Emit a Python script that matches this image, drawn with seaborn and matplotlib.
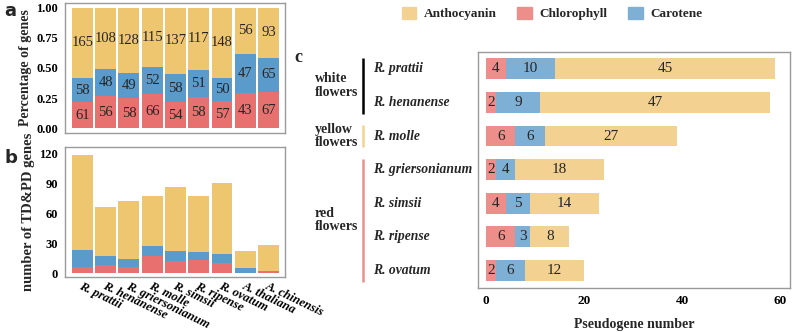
import numpy as np
import pandas as pd
import seaborn as sns
import matplotlib.pyplot as plt
from matplotlib.patches import Patch
from matplotlib.transforms import blended_transform_factory

# panel a / b species
species_ab = ['R. prattii', 'R. henanense', 'R. griersonianum', 'R. molle', 'R. simsii',
              'R. ripense', 'R. ovatum', 'A. thaliana', 'A. chinensis']
# panel a: gene counts
a_antho = [165, 108, 128, 115, 137, 117, 148, 56, 93]
a_carot = [58, 48, 49, 52, 58, 51, 50, 47, 65]
a_chlor = [61, 56, 58, 66, 54, 58, 57, 43, 67]
# panel b: TD&PD gene counts
b_antho = [95, 49, 58, 50, 64, 56, 71, 17, 26]
b_carot = [17, 9, 8, 10, 10, 8, 9, 5, 0]
b_chlor = [6, 8, 6, 17, 12, 13, 10, 0, 2]
# panel c: pseudogene counts
species_c = ['R. prattii', 'R. henanense', 'R. molle', 'R. griersonianum', 'R. simsii',
             'R. ripense', 'R. ovatum']
c_chlor = [4, 2, 6, 2, 4, 6, 2]
c_carot = [10, 9, 6, 4, 5, 3, 6]
c_antho = [45, 47, 27, 18, 14, 8, 12]

dark = {'Anthocyanin': '#EFC670', 'Chlorophyll': '#E8716F', 'Carotene': '#5A9BCB'}
light = {'Anthocyanin': '#F3D291', 'Chlorophyll': '#EE8E8A', 'Carotene': '#7EB0D6'}
spine_col = '#9a9a9a'

sns.set_theme(style='white')
plt.rcParams['font.family'] = ['Liberation Serif', 'DejaVu Serif']

fig = plt.figure(figsize=(7.94, 3.32), dpi=100)


def frame(ax, size=9):
    for s in ax.spines.values():
        s.set_visible(True)
        s.set_color(spine_col)
        s.set_linewidth(1.0)
    ax.tick_params(axis='both', colors='black', length=3, width=0.8, color=spine_col,
                   labelsize=size, pad=2)
    for t in ax.get_xticklabels() + ax.get_yticklabels():
        t.set_fontweight('bold')


# ---------- panel a ----------
ax_a = fig.add_axes([65 / 794, 1 - 133 / 332, 220 / 794, 130 / 332])
tot = np.array(a_antho) + np.array(a_carot) + np.array(a_chlor)
pa = pd.DataFrame({'sp': species_ab,
                   'top': tot / tot,
                   'mid': (np.array(a_chlor) + np.array(a_carot)) / tot,
                   'low': np.array(a_chlor) / tot})
for col, key in [('top', 'Anthocyanin'), ('mid', 'Carotene'), ('low', 'Chlorophyll')]:
    sns.barplot(data=pa, x='sp', y=col, color=dark[key], width=0.9, saturation=1,
                linewidth=0, ax=ax_a)
for i in range(len(species_ab)):
    ax_a.text(i, pa['low'][i] / 2, str(a_chlor[i]), ha='center', va='center', fontsize=10.5)
    ax_a.text(i, (pa['low'][i] + pa['mid'][i]) / 2, str(a_carot[i]), ha='center', va='center', fontsize=10.5)
    ax_a.text(i, (pa['mid'][i] + 1) / 2, str(a_antho[i]), ha='center', va='center', fontsize=10.5)
ax_a.set_xlim(-0.75, 8.71)
ax_a.set_ylim(-0.04, 1.04)
ax_a.set_yticks([0, 0.25, 0.5, 0.75, 1.0])
ax_a.set_yticklabels(['0.00', '0.25', '0.50', '0.75', '1.00'])
ax_a.set_xticks([])
ax_a.set_xlabel('')
ax_a.set_ylabel('Percentage of genes', fontsize=10, fontweight='bold', labelpad=3)
frame(ax_a)

# ---------- panel b ----------
ax_b = fig.add_axes([65 / 794, 1 - 277 / 332, 220 / 794, 130 / 332])
pb = pd.DataFrame({'sp': species_ab,
                   'top': np.array(b_antho) + np.array(b_carot) + np.array(b_chlor),
                   'mid': np.array(b_carot) + np.array(b_chlor),
                   'low': np.array(b_chlor)})
for col, key in [('top', 'Anthocyanin'), ('mid', 'Carotene'), ('low', 'Chlorophyll')]:
    sns.barplot(data=pb, x='sp', y=col, color=dark[key], width=0.9, saturation=1,
                linewidth=0, ax=ax_b)
ax_b.set_xlim(-0.75, 8.71)
ax_b.set_ylim(-4, 126)
ax_b.set_yticks([0, 30, 60, 90, 120])
ax_b.set_xlabel('')
ax_b.set_ylabel('number of TD&PD genes', fontsize=10.5, fontweight='bold', labelpad=3)
frame(ax_b)
ax_b.set_xticks(range(len(species_ab)))
ax_b.set_xticklabels(species_ab, rotation=-26, ha='left', va='top', rotation_mode='anchor',
                     fontsize=9, fontweight='bold', fontstyle='italic')
ax_b.tick_params(axis='x', length=0, pad=2)

# ---------- panel c ----------
ax_c = fig.add_axes([478 / 794, 1 - 288 / 332, 312 / 794, 236 / 332])
pc = pd.DataFrame({'sp': species_c,
                   'top': np.array(c_chlor) + np.array(c_carot) + np.array(c_antho),
                   'mid': np.array(c_chlor) + np.array(c_carot),
                   'low': np.array(c_chlor)})
for col, key in [('top', 'Anthocyanin'), ('mid', 'Carotene'), ('low', 'Chlorophyll')]:
    sns.barplot(data=pc, y='sp', x=col, color=light[key], width=0.62, saturation=1,
                linewidth=0, orient='h', ax=ax_c)
for i in range(len(species_c)):
    ax_c.text(pc['low'][i] / 2, i, str(c_chlor[i]), ha='center', va='center', fontsize=11)
    ax_c.text((pc['low'][i] + pc['mid'][i]) / 2, i, str(c_carot[i]), ha='center', va='center', fontsize=11)
    ax_c.text((pc['mid'][i] + pc['top'][i]) / 2, i, str(c_antho[i]), ha='center', va='center', fontsize=11)
ax_c.set_xlim(-1.63, 62.0)
ax_c.set_ylim(6.52, -0.5)
ax_c.set_xticks([0, 20, 40, 60])
ax_c.set_yticks([])
ax_c.set_ylabel('')
ax_c.set_xlabel('Pseudogene number', fontsize=10, fontweight='bold', labelpad=8)
frame(ax_c, size=9.5)

# species labels and flower-colour groups to the left of panel c
tr = blended_transform_factory(fig.transFigure, ax_c.transData)
for i, sp in enumerate(species_c):
    ax_c.text(373 / 794, i, sp, transform=tr, ha='left', va='center', fontsize=9.8,
              fontweight='bold', fontstyle='italic', clip_on=False)
groups = [('white\nflowers', 0, 1, 'black'), ('yellow\nflowers', 2, 2, '#F3D291'),
          ('red\nflowers', 3, 6, '#EE8E8A')]
for label, g0, g1, col in groups:
    ax_c.plot([363 / 794, 363 / 794], [g0 - 0.33, g1 + 0.33], transform=tr, color=col,
              lw=1.8, clip_on=False, solid_capstyle='butt')
    ax_c.text(315 / 794, (g0 + g1) / 2, label, transform=tr, ha='left', va='center',
              fontsize=10, fontweight='bold', linespacing=1.05, clip_on=False)

# legend
handles = [Patch(color=light[k], label=k) for k in ['Anthocyanin', 'Chlorophyll', 'Carotene']]
fig.legend(handles=handles, loc='center', bbox_to_anchor=(552 / 794, 1 - 13.5 / 332), ncol=3,
           frameon=False, prop={'weight': 'bold', 'size': 9.5}, handlelength=1.1,
           handleheight=1.1, columnspacing=1.6, handletextpad=0.55)

# panel letters
fig.text(4 / 794, 1 - 11 / 332, 'a', fontsize=13, fontweight='bold', family='DejaVu Sans', va='center')
fig.text(4 / 794, 1 - 158 / 332, 'b', fontsize=13, fontweight='bold', family='DejaVu Sans', va='center')
fig.text(294 / 794, 1 - 58 / 332, 'c', fontsize=13, fontweight='bold', va='center')

fig.savefig('out.png', dpi=100)
